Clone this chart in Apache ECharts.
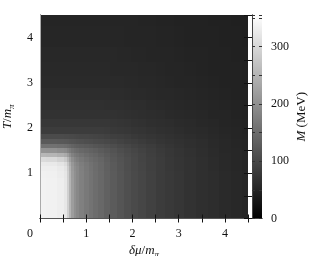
<!DOCTYPE html>
<html><head><meta charset="utf-8">
<script src="https://cdn.jsdelivr.net/npm/echarts@6/dist/echarts.min.js"></script>
<style>html,body{margin:0;padding:0;background:#fff}#c{width:315px;height:256px}</style>
</head><body><div id="c"></div>
<script>
// δμ/mπ grid nodes
const deltaMu = [0, 0.25, 0.5, 0.55, 0.6, 0.65, 0.7, 0.75, 0.8, 0.9, 1.0, 1.1, 1.2, 1.3, 1.45, 1.6, 1.75, 1.9, 2.05, 2.2, 2.4, 2.6, 2.8, 3.0, 3.25, 3.5, 3.75, 4.0, 4.25, 4.5];
// T/mπ grid nodes
const temps = [0, 0.4, 0.8, 1.0, 1.1, 1.2, 1.3, 1.4, 1.5, 1.6, 1.7, 1.8, 1.95, 2.1, 2.3, 2.5, 2.75, 3.0, 3.3, 3.6, 4.0, 4.5];
// M (MeV), one row per T node, columns follow deltaMu
const massByT = [
  [337,336,331,322,290,250,218,200,190,178,168,160,152,145,135,126,118,110,103,97,90,84,79,75,70,66,62,58,55,53],
  [337,336,331,322,290,250,218,200,190,178,168,160,152,145,135,126,118,110,103,97,90,84,79,75,70,66,62,58,55,53],
  [337,336,331,322,290,250,218,200,190,178,168,160,152,145,135,126,118,110,103,97,90,84,79,75,70,66,62,58,55,53],
  [335,334,329,320,288,249,217,200,190,178,168,160,152,145,135,126,118,110,103,97,90,84,79,75,70,66,62,58,55,53],
  [332,331,326,316,284,246,215,198,189,177,167,159,151,144,134,125,117,109,102,96,89,83,78,74,69,65,61,57,54,52],
  [326,324,318,306,274,238,210,194,185,174,165,157,150,143,134,125,117,109,102,96,89,83,78,74,69,65,61,57,54,52],
  [305,302,293,280,252,222,198,184,176,167,159,152,146,140,131,123,115,108,101,95,89,83,78,74,69,65,61,57,54,52],
  [255,252,245,236,218,198,180,170,164,157,151,145,140,134,127,120,113,106,100,94,88,82,77,73,68,64,60,57,54,52],
  [205,203,198,193,183,172,162,155,150,145,140,136,132,127,121,115,109,103,97,92,86,81,76,72,68,64,60,56,54,51],
  [158,157,155,152,148,143,138,134,131,128,125,122,119,116,112,107,102,97,92,88,83,78,74,70,66,63,59,56,53,51],
  [125,125,124,123,121,119,117,115,113,111,109,107,105,103,100,97,93,89,86,82,78,74,71,68,65,62,58,55,53,51],
  [104,104,104,103,103,102,101,100,99,98,97,96,95,93,91,88,86,83,80,77,74,71,68,65,62,60,57,54,52,50],
  [84,84,84,84,84,84,84,84,84,84,84,84,84,83,82,80,78,76,74,72,70,67,65,62,60,58,55,53,51,49],
  [76,76,76,76,76,76,76,76,77,77,77,77,77,76,76,75,74,72,70,68,66,64,62,60,58,56,54,52,50,49],
  [70,70,70,70,70,70,70,70,70,70,70,70,70,70,70,69,68,67,66,64,63,61,59,57,56,54,52,51,49,48],
  [67,67,67,67,67,67,67,67,67,67,67,67,67,67,66,66,65,64,63,62,60,59,57,56,54,53,51,50,49,48],
  [62,62,62,62,62,62,62,62,62,62,62,62,62,62,62,61,61,60,59,58,57,56,55,54,53,52,50,49,48,47],
  [59,59,59,59,59,59,59,59,59,59,59,59,59,59,59,58,58,57,57,56,55,54,53,52,51,50,49,48,47,46],
  [57,57,57,57,57,57,57,57,57,57,57,57,57,57,57,56,56,55,55,54,54,53,52,51,50,49,48,48,47,46],
  [55,55,55,55,55,55,55,55,55,55,55,55,55,55,55,55,54,54,53,53,52,52,51,50,49,49,48,47,46,46],
  [53,53,53,53,53,53,53,53,53,53,53,53,53,53,53,53,53,52,52,51,51,50,50,49,48,48,47,46,46,45],
  [52,52,52,52,52,52,52,52,52,52,52,52,52,52,52,52,52,51,51,50,50,49,49,48,48,47,46,46,45,45]
];
const xTickLabels = [0, 1, 2, 3, 4];
const yTickLabels = [1, 2, 3, 4];
const cbTickLabels = [0, 100, 200, 300];
const cbRange = [0, 355];

const FONT = 'Liberation Serif';
function cellEdges(nodes, i) {
  const n = nodes.length;
  const lo = i === 0 ? nodes[0] : (nodes[i - 1] + nodes[i]) / 2;
  const hi = i === n - 1 ? nodes[n - 1] : (nodes[i] + nodes[i + 1]) / 2;
  return [lo, hi];
}
const cells = [];
temps.forEach((t, j) => deltaMu.forEach((d, i) => {
  const ex = cellEdges(deltaMu, i), ey = cellEdges(temps, j);
  cells.push([d, t, massByT[j][i], ex[0], ex[1], ey[0], ey[1]]);
}));

const rich = {
  i: {fontFamily: FONT, fontStyle: 'italic', fontSize: 13, color: '#111', lineHeight: 16, verticalAlign: 'bottom'},
  n: {fontFamily: FONT, fontSize: 13, color: '#111', lineHeight: 16, verticalAlign: 'bottom'},
  s: {fontFamily: FONT, fontStyle: 'italic', fontSize: 9, color: '#111', lineHeight: 12, verticalAlign: 'bottom', padding: [0, 0, -2, 0]}
};
const labelStyle = {fontFamily: FONT, fontSize: 12, color: '#111'};
const PW = 208, PH = 203.5, CBW = 10;
const noTick = {show: false};
const hidden = {axisLine: {show: false}, axisLabel: {show: false}, splitLine: {show: false}};
function tickAxis(grid, pos, offset, min, max, interval, len, color) {
  return Object.assign({gridIndex: grid, type: 'value', min: min, max: max, interval: interval,
    position: pos, offset: offset, z: 6,
    axisTick: {show: true, length: len, lineStyle: {color: color, width: 1}}}, hidden);
}

const chart = echarts.init(document.getElementById('c'), null, {renderer: 'canvas'});
chart.setOption({
  animation: false,
  backgroundColor: '#fff',
  grid: [
    {left: 40, top: 15, width: PW, height: PH, containLabel: false, outerBoundsMode: 'none'},
    {left: 252, top: 15, width: CBW, height: PH, containLabel: false, outerBoundsMode: 'none'},
    {left: 40, top: 15, width: PW, height: PH, containLabel: false, outerBoundsMode: 'none'},
    {left: 252, top: 15, width: CBW, height: PH, containLabel: false, outerBoundsMode: 'none'}
  ],
  visualMap: {
    show: false, type: 'continuous', min: cbRange[0], max: cbRange[1],
    dimension: 2, seriesIndex: 0, inRange: {color: ['#000000', '#ffffff']}
  },
  xAxis: [
    {gridIndex: 0, type: 'value', min: 0, max: 4.5, interval: 0.5, position: 'bottom', z: 5,
     axisLine: {lineStyle: {color: '#111', width: 1}}, axisTick: noTick, splitLine: {show: false},
     axisLabel: Object.assign({}, labelStyle, {margin: 9,
       formatter: v => xTickLabels.includes(v) ? (v === 0 ? '{z|' + v + '}' : String(v)) : '',
       rich: {z: {fontFamily: FONT, fontSize: 12, color: '#111', padding: [0, 20, 0, 0]}}}),
     name: '{i|δμ}{n|/}{i|m}{s|π}', nameLocation: 'middle', nameGap: 22, nameTextStyle: {rich: rich}},
    {gridIndex: 0, type: 'value', min: 0, max: 4.5, position: 'top', z: 5,
     axisLine: {lineStyle: {color: '#555', width: 1}}, axisTick: noTick, axisLabel: {show: false}, splitLine: {show: false}},
    {gridIndex: 1, type: 'value', min: 0, max: 1, position: 'bottom', z: 5,
     axisLine: {lineStyle: {color: '#444'}}, axisTick: noTick, axisLabel: {show: false}, splitLine: {show: false}},
    {gridIndex: 1, type: 'value', min: 0, max: 1, position: 'top', z: 5,
     axisLine: {lineStyle: {color: '#444'}}, axisTick: noTick, axisLabel: {show: false}, splitLine: {show: false}},
    // inward ticks: bottom edge (pointing up) and top edge (pointing down)
    tickAxis(2, 'top', -PH, 0, 4.5, 0.5, 4, '#111'),
    tickAxis(2, 'bottom', -PH, 0, 4.5, 0.5, 4, '#111'),
    Object.assign({gridIndex: 3, type: 'value', min: 0, max: 1, show: false})
  ],
  yAxis: [
    {gridIndex: 0, type: 'value', min: 0, max: 4.5, interval: 0.5, position: 'left', z: 5,
     axisLine: {lineStyle: {color: '#111', width: 1}}, axisTick: noTick, splitLine: {show: false},
     axisLabel: Object.assign({}, labelStyle, {margin: 7, formatter: v => yTickLabels.includes(v) ? String(v) : ''}),
     name: '{i|T}{n|/}{i|m}{s|π}', nameLocation: 'middle', nameGap: 22, nameTextStyle: {rich: rich}},
    {gridIndex: 0, type: 'value', min: 0, max: 4.5, position: 'right', z: 5,
     axisLine: {lineStyle: {color: '#aaa', width: 1}}, axisTick: noTick, axisLabel: {show: false}, splitLine: {show: false}},
    {gridIndex: 1, type: 'value', min: cbRange[0], max: cbRange[1], interval: 50, position: 'right', z: 5,
     axisLine: {lineStyle: {color: '#444', width: 1}}, axisTick: noTick, splitLine: {show: false},
     axisLabel: Object.assign({}, labelStyle, {margin: 9, formatter: v => cbTickLabels.includes(v) ? String(v) : ''}),
     name: '{i|M}{n| (MeV)}', nameLocation: 'middle', nameGap: 30, nameTextStyle: {rich: rich}},
    {gridIndex: 1, type: 'value', min: cbRange[0], max: cbRange[1], position: 'left', z: 5,
     axisLine: {lineStyle: {color: '#444', width: 1}}, axisTick: noTick, axisLabel: {show: false}, splitLine: {show: false}},
    // inward ticks: left edge (pointing right) and right edge (pointing left)
    tickAxis(2, 'right', -PW, 0, 4.5, 0.5, 4, '#111'),
    tickAxis(2, 'left', -PW, 0, 4.5, 0.5, 4, '#111'),
    // colorbar inward ticks
    tickAxis(3, 'left', -CBW, cbRange[0], cbRange[1], 50, 3, '#333'),
    tickAxis(3, 'right', -CBW, cbRange[0], cbRange[1], 50, 3, '#333')
  ],
  series: [
    {
      type: 'custom', xAxisIndex: 0, yAxisIndex: 0, data: cells, clip: true, z: 1,
      encode: {x: 0, y: 1},
      renderItem: function (params, api) {
        const a = api.coord([api.value(3), api.value(5)]);
        const b = api.coord([api.value(4), api.value(6)]);
        const x0 = Math.round(a[0]), x1 = Math.round(b[0]);
        const y0 = Math.round(b[1]), y1 = Math.round(a[1]);
        return {type: 'rect',
          shape: {x: x0, y: y0, width: x1 - x0, height: y1 - y0},
          style: {fill: api.visual('color')}};
      }
    },
    {
      type: 'custom', xAxisIndex: 2, yAxisIndex: 2, data: [[0, cbRange[0], 1, cbRange[1]]], z: 1, silent: true,
      encode: {x: [0, 2], y: [1, 3]},
      renderItem: function (params, api) {
        const a = api.coord([api.value(0), api.value(1)]);
        const b = api.coord([api.value(2), api.value(3)]);
        return {type: 'rect', shape: {x: a[0], y: b[1], width: b[0] - a[0], height: a[1] - b[1]},
          style: {fill: {type: 'linear', x: 0, y: 1, x2: 0, y2: 0,
            colorStops: [{offset: 0, color: '#000000'}, {offset: 1, color: '#ffffff'}]}}};
      }
    }
  ]
});
</script></body></html>
